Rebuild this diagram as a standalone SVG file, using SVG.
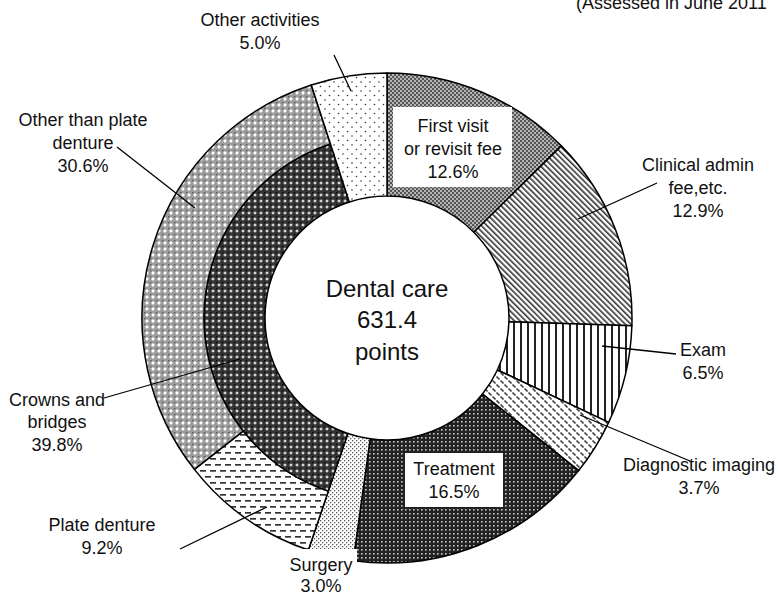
<svg xmlns="http://www.w3.org/2000/svg" width="778" height="596" viewBox="0 0 778 596">
<style>
.seg{stroke:#000;stroke-width:1.5;stroke-linejoin:round}
.lead{stroke:#000;stroke-width:1.3;fill:none}
.t{font-family:"Liberation Sans",Arial,sans-serif;font-size:18px;fill:#111;text-anchor:middle}
.c{font-family:"Liberation Sans",Arial,sans-serif;font-size:24px;fill:#111;text-anchor:middle}
</style>
<defs>
<pattern id="pFirst" width="4" height="4" patternUnits="userSpaceOnUse">
<rect width="4" height="4" fill="#b4b4b4"/><rect width="2" height="2" fill="#555"/><rect x="2" y="2" width="2" height="2" fill="#555"/>
</pattern>
<pattern id="pClin" width="4" height="4" patternUnits="userSpaceOnUse" patternTransform="rotate(-45)">
<rect width="4" height="4" fill="#fff"/><rect width="1.6" height="4" fill="#333"/>
</pattern>
<pattern id="pExam" width="7" height="7" patternUnits="userSpaceOnUse">
<rect width="7" height="7" fill="#fff"/><rect x="2" width="2" height="7" fill="#222"/>
</pattern>
<pattern id="pDiag" width="8" height="8" patternUnits="userSpaceOnUse">
<rect width="8" height="8" fill="#fff"/><path d="M0.5,0.5 L3.5,3.5 M4.5,4.5 L7.5,7.5" stroke="#444" stroke-width="1.6"/>
</pattern>
<pattern id="pTreat" width="4" height="4" patternUnits="userSpaceOnUse">
<rect width="4" height="4" fill="#222"/><rect x="1" y="1" width="1.6" height="1.6" fill="#c8c8c8"/>
</pattern>
<pattern id="pSurg" width="4" height="4" patternUnits="userSpaceOnUse">
<rect width="4" height="4" fill="#fff"/><rect width="1.3" height="1.3" fill="#555"/><rect x="2" y="2" width="1.3" height="1.3" fill="#555"/>
</pattern>
<pattern id="pCrown" width="6" height="6" patternUnits="userSpaceOnUse">
<rect width="6" height="6" fill="#333"/><path d="M3,1.2 L4.8,3 L3,4.8 L1.2,3Z" fill="#d8d8d8"/><rect width="1.2" height="1.2" fill="#000"/>
</pattern>
<pattern id="pOther" width="6" height="6" patternUnits="userSpaceOnUse">
<rect width="6" height="6" fill="#9c9c9c"/><path d="M3,1.1 L4.9,3 L3,4.9 L1.1,3Z" fill="#fff"/><rect width="1.3" height="1.3" fill="#555"/>
</pattern>
<pattern id="pPlate" width="10" height="12" patternUnits="userSpaceOnUse">
<rect width="10" height="12" fill="#fff"/><rect x="0" y="2" width="6" height="1.7" fill="#333"/><rect x="5" y="8" width="5" height="1.7" fill="#333"/><rect x="0" y="8" width="1" height="1.7" fill="#333"/>
</pattern>
<pattern id="pAct" width="9" height="9" patternUnits="userSpaceOnUse">
<rect width="9" height="9" fill="#fff"/><circle cx="1" cy="1" r="0.8" fill="#333"/><circle cx="5.5" cy="5.5" r="0.8" fill="#333"/>
</pattern>
</defs>
<rect width="778" height="596" fill="#fff"/>

<g id="first-visit"><path class="seg" fill="url(#pFirst)" d="M387,73 A245,245 0 0 1 561.33,145.85 L473.81,232.27 A122,122 0 0 0 387,196 Z"/></g>
<g id="clinical-admin"><path class="seg" fill="url(#pClin)" d="M561.33,145.85 A245,245 0 0 1 631.88,325.70 L508.94,321.83 A122,122 0 0 0 473.81,232.27 Z"/></g>
<g id="exam"><path class="seg" fill="url(#pExam)" d="M631.88,325.70 A245,245 0 0 1 608.68,422.32 L497.39,369.95 A122,122 0 0 0 508.94,321.83 Z"/></g>
<g id="diagnostic-imaging"><path class="seg" fill="url(#pDiag)" d="M608.68,422.32 A245,245 0 0 1 578.68,470.58 L482.45,393.98 A122,122 0 0 0 497.39,369.95 Z"/></g>
<g id="treatment"><path class="seg" fill="url(#pTreat)" d="M578.68,470.58 A245,245 0 0 1 353.24,560.66 L370.19,438.84 A122,122 0 0 0 482.45,393.98 Z"/></g>
<g id="surgery"><path class="seg" fill="url(#pSurg)" d="M353.24,560.66 A245,245 0 0 1 308.37,550.04 L347.85,433.55 A122,122 0 0 0 370.19,438.84 Z"/></g>
<g id="crowns-bridges"><path class="seg" fill="url(#pCrown)" d="M328.27,491.32 A183,183 0 0 1 330.45,143.96 L349.30,201.97 A122,122 0 0 0 347.85,433.55 Z"/></g>
<g id="plate-denture"><path class="seg" fill="url(#pPlate)" d="M308.37,550.04 A245,245 0 0 1 194.37,469.38 L243.11,431.07 A183,183 0 0 0 328.27,491.32 Z"/></g>
<g id="other-than-plate"><path class="seg" fill="url(#pOther)" d="M194.37,469.38 A245,245 0 0 1 311.29,84.99 L330.45,143.96 A183,183 0 0 0 243.11,431.07 Z"/></g>
<g id="other-activities"><path class="seg" fill="url(#pAct)" d="M311.29,84.99 A245,245 0 0 1 387,73 L387,196 A122,122 0 0 0 349.30,201.97 Z"/></g>

<g id="connectors">
<line class="lead" x1="334" y1="55" x2="351" y2="91"/>
<line class="lead" x1="117" y1="147" x2="195" y2="208"/>
<line class="lead" x1="104" y1="398" x2="240" y2="359"/>
<line class="lead" x1="180" y1="549" x2="267" y2="507"/>
<line class="lead" x1="657" y1="183" x2="578" y2="219"/>
<line class="lead" x1="602" y1="346" x2="676" y2="354"/>
<line class="lead" x1="580" y1="415" x2="690" y2="461"/>
</g>

<g id="center-label">
<text class="c" x="387" y="297">Dental care</text>
<text class="c" x="387" y="328">631.4</text>
<text class="c" x="387" y="360">points</text>
</g>

<g id="label-first-visit">
<rect x="393" y="107" width="119" height="80" fill="#fff"/>
<text class="t" x="453" y="132">First visit</text>
<text class="t" x="453" y="155">or revisit fee</text>
<text class="t" x="453" y="178">12.6%</text>
</g>
<g id="label-treatment">
<rect x="405" y="453" width="98" height="54" fill="#fff"/>
<text class="t" x="454" y="475">Treatment</text>
<text class="t" x="454" y="498">16.5%</text>
</g>
<g id="label-surgery">
<rect x="286" y="549" width="71" height="47" fill="#fff"/>
<text class="t" x="321" y="571">Surgery</text>
<text class="t" x="321" y="592">3.0%</text>
</g>
<g id="label-other-activities">
<text class="t" x="260" y="26">Other activities</text>
<text class="t" x="260" y="49">5.0%</text>
</g>
<g id="label-other-than-plate">
<text class="t" x="83" y="126">Other than plate</text>
<text class="t" x="83" y="149">denture</text>
<text class="t" x="83" y="172">30.6%</text>
</g>
<g id="label-crowns">
<text class="t" x="57" y="406">Crowns and</text>
<text class="t" x="57" y="428">bridges</text>
<text class="t" x="57" y="451">39.8%</text>
</g>
<g id="label-plate">
<text class="t" x="102" y="531">Plate denture</text>
<text class="t" x="102" y="554">9.2%</text>
</g>
<g id="label-clinical">
<text class="t" x="698" y="171">Clinical admin</text>
<text class="t" x="698" y="194">fee,etc.</text>
<text class="t" x="698" y="217">12.9%</text>
</g>
<g id="label-exam">
<text class="t" x="703" y="356">Exam</text>
<text class="t" x="703" y="379">6.5%</text>
</g>
<g id="label-diagnostic">
<text class="t" x="699" y="471">Diagnostic imaging</text>
<text class="t" x="699" y="494">3.7%</text>
</g>
<g id="note">
<text x="576" y="9" style="font-family:'Liberation Sans',Arial,sans-serif;font-size:18px;fill:#111">(Assessed in June 2011</text>
</g>
</svg>
